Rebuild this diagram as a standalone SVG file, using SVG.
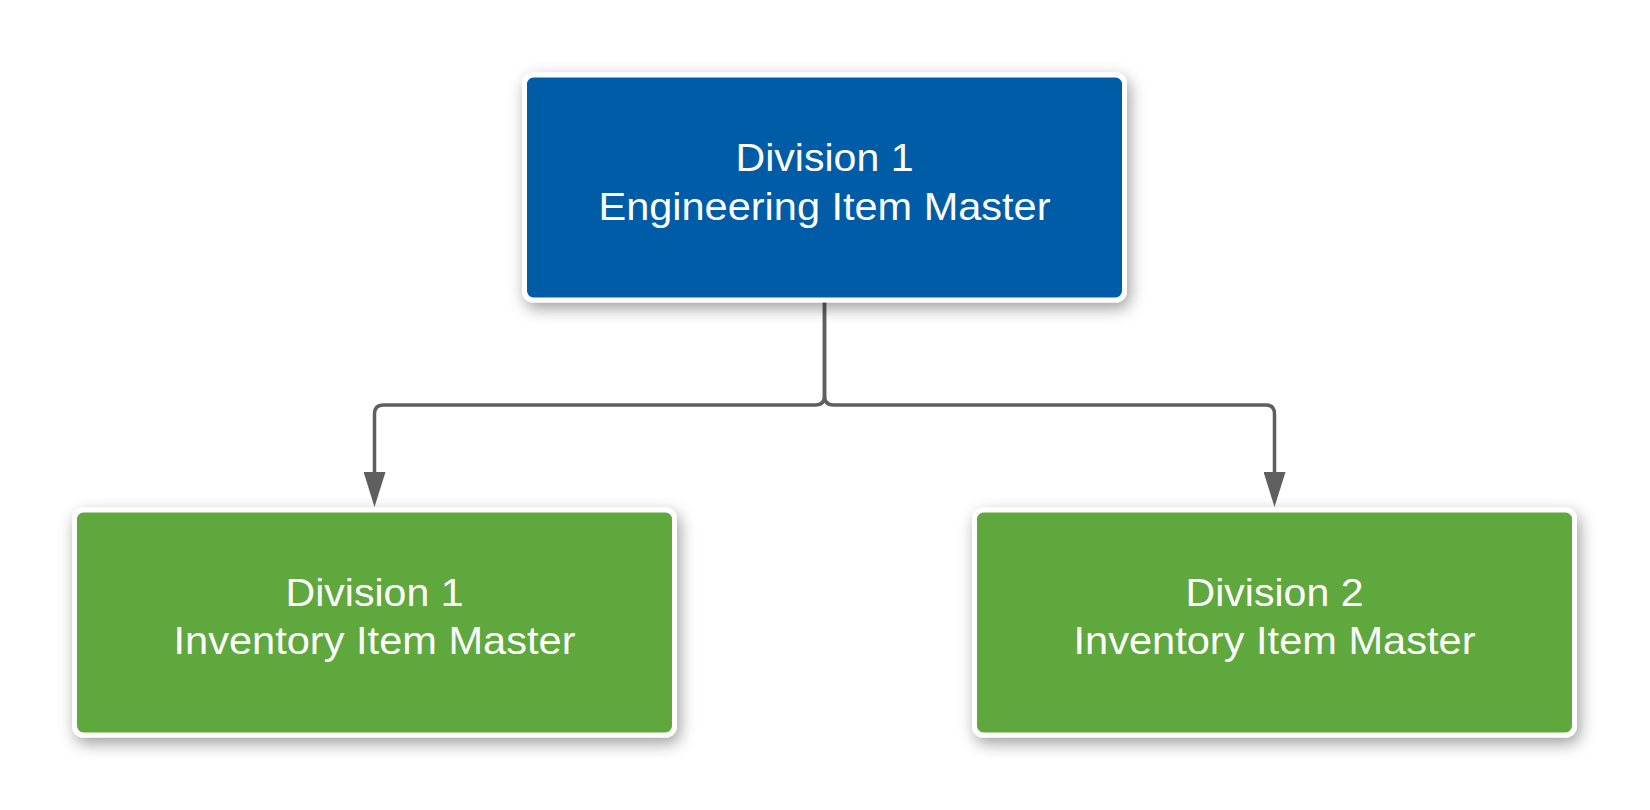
<svg xmlns="http://www.w3.org/2000/svg" width="1650" height="810" viewBox="0 0 1650 810">
<style>
.box{stroke:#ffffff;stroke-width:5;filter:url(#shadow)}
.blue{fill:#035CA6}
.green{fill:#5FA83C}
.lbl{font-family:"Liberation Sans",Arial,sans-serif;font-size:38.5px;fill:#ffffff;text-anchor:middle}
.conn{fill:none;stroke:#5F5F5F;stroke-width:3.5}
</style>
<defs>
<filter id="shadow" x="-10%" y="-20%" width="125%" height="155%">
<feDropShadow dx="3" dy="6" stdDeviation="8" flood-color="#000000" flood-opacity="0.38"/>
</filter>
<marker id="arrow" markerUnits="userSpaceOnUse" viewBox="0 0 35 22" markerWidth="35" markerHeight="22" refX="0" refY="11" orient="auto">
<path d="M0,0 L35,11 L0,22 Z" fill="#5F5F5F"/>
</marker>
</defs>
<rect width="1650" height="810" fill="#ffffff"/>
<g id="connectors">
<path class="conn" d="M824.5,300 L824.5,396 Q824.5,405 815.5,405 L383.5,405 Q374.5,405 374.5,414 L374.5,472" marker-end="url(#arrow)"/>
<path class="conn" d="M824.5,300 L824.5,396 Q824.5,405 833.5,405 L1265.5,405 Q1274.5,405 1274.5,414 L1274.5,472" marker-end="url(#arrow)"/>
</g>
<g id="node-eng">
<rect class="box blue" x="524.5" y="75" width="600" height="225" rx="9"/>
<text class="lbl" x="824.5" y="171" textLength="178" lengthAdjust="spacingAndGlyphs">Division 1</text>
<text class="lbl" x="824.5" y="220" textLength="452" lengthAdjust="spacingAndGlyphs">Engineering Item Master</text>
</g>
<g id="node-inv1">
<rect class="box green" x="74.5" y="510" width="600" height="225" rx="9"/>
<text class="lbl" x="374.5" y="605.5" textLength="178" lengthAdjust="spacingAndGlyphs">Division 1</text>
<text class="lbl" x="374.5" y="654" textLength="402" lengthAdjust="spacingAndGlyphs">Inventory Item Master</text>
</g>
<g id="node-inv2">
<rect class="box green" x="974.5" y="510" width="600" height="225" rx="9"/>
<text class="lbl" x="1274.5" y="605.5" textLength="178" lengthAdjust="spacingAndGlyphs">Division 2</text>
<text class="lbl" x="1274.5" y="654" textLength="402" lengthAdjust="spacingAndGlyphs">Inventory Item Master</text>
</g>
</svg>
